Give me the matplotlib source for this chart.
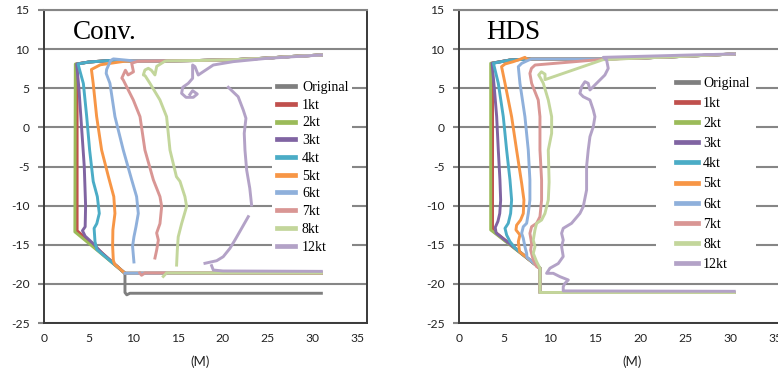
import numpy as np
import matplotlib
matplotlib.use("Agg")
import matplotlib.pyplot as plt
from matplotlib.patches import Rectangle

plt.rcParams['axes.unicode_minus'] = False

nan = np.nan
labels = ["Original", "1kt", "2kt", "3kt", "4kt", "5kt", "6kt", "7kt", "8kt", "12kt"]
colors = ["#7f7f7f", "#c0504d", "#9bbb59", "#8064a2", "#4bacc6",
          "#f79646", "#8fb0db", "#d99694", "#c3d69b", "#b3a2c7"]

# ---- Conv. panel ----
conv_top_x = [31.0, 27.5, 24.9, 21.2, 17.4, 13.7, 10.0, 7.4, 5.0, 3.65]
conv_top_y = [9.25, 9.05, 8.85, 8.65, 8.55, 8.5, 8.5, 8.55, 8.35, 8.1]

conv_orig_x = [3.6, 3.6, 9.05, 9.05, 9.25, 9.6, 31.0]
conv_orig_y = [8.1, -13.3, -18.65, -21.1, -21.4, -21.2, -21.2]
conv_1kt_x = [3.7, 3.7, 9.05, 31.0]
conv_1kt_y = [8.1, -13.2, -18.65, -18.65]
conv_2kt_x = [3.5, 3.45, 9.05, 31.0]
conv_2kt_y = [8.1, -13.35, -18.65, -18.65]
conv_3kt_x = [3.65, 3.9, 4.2, 4.5, 4.65, 4.6, 4.3, 4.6, 5.5, 6.5, 9.05, 31.0]
conv_3kt_y = [8.1, 5.0, 0.0, -5.0, -10.0, -12.7, -13.2, -13.9, -14.85, -16.1, -18.65, -18.65]
conv_4kt_x = [3.8, 4.4, 4.77, 5.1, 5.5, 5.96, 6.18, 5.9, 5.6, 5.7, 5.9, 9.05, 31.0]
conv_4kt_y = [8.1, 5.6, 1.4, -2.9, -6.9, -8.85, -11.0, -12.3, -12.9, -14.6, -15.6, -18.65, -18.65]
conv_5kt_x = [9.0, 6.3, 5.3, 5.5, 5.88, 6.44, 7.2, 7.8, 7.93, 7.7, 7.67, 7.75, 7.9, 9.05, 31.0]
conv_5kt_y = [8.45, 8.0, 7.4, 5.6, 1.4, -2.9, -6.3, -8.85, -11.0, -13.1, -15.2, -17.0, -17.5, -18.65, -18.65]
conv_6kt_x = [7.75, 7.45, 7.0, 6.95, 7.37, 7.93, 8.86, 9.8, 10.35, 10.54, 10.28, 10.05, 9.9, 10.05,
              nan, 9.05, 31.0]
conv_6kt_y = [8.75, 8.55, 7.4, 6.9, 5.63, 1.37, -2.9, -6.7, -8.85, -11.0, -12.7, -14.0, -15.2, -17.2,
              nan, -18.65, -18.6]
conv_7kt_x = [10.5, 9.8, 10.0, 9.4, 9.1, 8.7, 8.86, 9.98, 10.73, 11.28, 12.22, 12.96, 13.15, 12.96,
              12.59, 12.78, 12.59, 12.4, nan, 10.7, 10.9, 11.3, 31.0]
conv_7kt_y = [8.45, 8.2, 7.1, 6.7, 7.3, 6.3, 6.05, 3.5, 1.37, -2.9, -6.7, -8.85, -10.1, -12.3,
              -13.5, -14.4, -15.7, -16.7, nan, -18.6, -18.9, -18.6, -18.6]
conv_8kt_x = [13.5, 12.6, 12.4, 12.0, 11.66, 11.28, 11.1, 11.3, 11.84, 12.96, 13.7, 14.08, 14.8, 15.2,
              15.75, 15.94, 15.38, 15.0, 14.9, 14.82, nan, 13.33, 13.7, 31.0]
conv_8kt_y = [8.45, 7.8, 6.7, 7.3, 7.55, 7.33, 6.7, 6.6, 5.63, 3.5, 1.37, -2.9, -6.3, -6.9,
              -8.85, -10.1, -12.3, -14.0, -15.67, -17.6, nan, -19.05, -18.6, -18.6]
conv_12kt_x = [31.0, 24.9, 21.15, 18.92, 17.8, 17.24, 16.87, 16.61, 16.61, 16.13, 15.5, 15.38, 15.87,
               16.69, 17.13, 16.61, 16.3, nan, 20.6, 21.7, 22.27, 22.57, 22.38, 22.46, 22.65, 23.0,
               23.2, nan, 22.83, 22.09, 21.34, 20.78, 20.03, 19.3, 17.99, nan, 18.73, 18.92, 20.0, 31.0]
conv_12kt_y = [9.25, 8.82, 8.4, 7.97, 7.12, 6.69, 7.76, 7.97, 6.27, 5.63, 5.12, 4.35, 3.84,
               3.84, 4.26, 4.69, 4.2, nan, 5.12, 3.92, 2.22, 1.16, -0.76, -2.89, -5.45, -7.79,
               -9.92, nan, -11.41, -12.9, -14.4, -15.46, -16.53, -17.04, -17.37, nan, -17.67, -18.23,
               -18.35, -18.4]

# ---- HDS panel ----
hds_top_x = [30.4, 24.2, 19.8, 15.9, 12.0, 8.0, 5.6, 3.6]
hds_top_y = [9.38, 9.05, 8.85, 8.75, 8.75, 8.75, 8.6, 8.2]

hds_orig_x = [3.6, 3.6, 8.94, 8.94, 30.4]
hds_orig_y = [8.2, -13.1, -18.0, -21.1, -21.1]
hds_1kt_x = [3.7, 3.7, 8.94, 8.94, 30.4]
hds_1kt_y = [8.2, -13.1, -18.0, -21.1, -21.1]
hds_2kt_x = [3.5, 3.5, 8.94, 8.94, 30.4]
hds_2kt_y = [8.2, -13.1, -18.0, -21.1, -21.1]
hds_3kt_x = [3.65, 3.9, 4.16, 4.34, 4.52, 4.6, 4.5, 4.3, 4.0, 4.1, 8.94, 8.94, 30.4]
hds_3kt_y = [8.2, 5.0, 1.37, -2.9, -6.7, -9.3, -11.0, -12.0, -12.8, -13.5, -18.0, -21.1, -21.1]
hds_4kt_x = [3.8, 4.34, 4.89, 5.26, 5.63, 5.81, 5.7, 5.44, 5.08, 5.26, 5.63, 6.18, 8.94, 8.94, 30.4]
hds_4kt_y = [8.2, 5.63, 1.37, -2.9, -6.73, -9.28, -11.0, -12.26, -12.9, -13.75, -14.6, -15.4,
             -18.0, -21.1, -21.1]
hds_5kt_x = [7.5, 7.28, 6.73, 6.0, 5.08, 4.7, 5.08, 5.81, 6.36, 6.92, 7.17, 7.1, 6.8, 6.36, 6.29,
             6.73, 6.55, 6.66, 6.7, 8.94, 8.94, 30.4]
hds_5kt_y = [8.7, 8.95, 8.7, 8.4, 8.1, 7.76, 5.63, 1.37, -2.9, -7.15, -9.28, -11.0, -11.84, -12.5,
             -13.1, -13.75, -14.6, -15.67, -15.9, -18.0, -21.1, -21.1]
hds_6kt_x = [7.5, 6.92, 6.55, 6.73, 7.28, 7.65, 7.83, 7.83, 7.65, 7.47, 7.1, 6.92, 7.1, 7.28, 7.47,
             7.5, 8.94, 8.94, 30.4]
hds_6kt_y = [8.5, 8.18, 7.76, 5.63, 1.37, -2.9, -6.73, -9.28, -11.0, -12.26, -12.69, -13.54,
             -14.18, -15.24, -16.1, -16.6, -18.0, -21.1, -21.1]
hds_7kt_x = [15.9, 8.4, 8.0, 7.83, 8.02, 8.75, 8.94, 8.94, 9.12, 9.12, 8.94, 8.57, 8.02, 7.83,
             8.02, 7.91, 8.2, 8.57, 8.94, 8.94, 30.4]
hds_7kt_y = [8.7, 7.97, 7.54, 6.9, 5.63, 3.5, 1.37, -2.9, -6.73, -9.28, -11.41, -12.26, -12.69,
             -13.54, -14.82, -15.67, -16.95, -17.8, -18.0, -21.1, -21.1]
hds_8kt_x = [15.9, 9.5, 9.5, 9.1, 8.8, 9.0, 9.31, 9.86, 10.23, 10.23, 9.86, 9.95, 9.86, 9.49, 9.12,
             8.57, 8.39, 8.2, 8.39, 8.2, 8.57, 8.94, 8.94, 30.4]
hds_8kt_y = [8.65, 6.1, 6.8, 7.1, 6.7, 6.3, 5.63, 3.5, 1.37, -0.76, -2.9, -7.0, -9.28, -11.0,
             -11.84, -12.26, -13.1, -14.4, -15.24, -16.1, -17.16, -18.0, -21.1, -21.1]
hds_12kt_x = [30.4, 25.5, 15.93, 16.3, 16.48, 16.11, 15.19, 14.46, 14.27, 13.91, 13.54, 13.35,
              13.72, 14.46, 14.83, 15.01, 14.83, 14.46, 14.27, 14.09, 14.09, 13.72, 13.35, 12.43,
              11.51, 11.33, 11.51, 11.33, 11.51, 10.96, 10.04, 9.67, 10.41, 11.15, 12.07, 11.7,
              11.51, 11.51, 30.4]
hds_12kt_y = [9.38, 9.25, 8.95, 8.61, 7.54, 6.69, 5.63, 4.78, 5.63, 5.84, 5.2, 4.35,
              3.92, 3.5, 2.22, 1.37, 0.09, -1.19, -2.89, -5.0, -8.0, -10.13, -11.0, -12.26,
              -12.9, -13.54, -14.4, -15.24, -16.5, -17.4, -18.0, -18.65, -18.65, -19.08, -19.5,
              -19.93, -20.36, -20.9, -20.95]


def with_top(top_x, top_y, net_x, net_y):
    # float rope from the right end up to where this run's net starts
    start = net_x[0]
    tx = [x for x in top_x if x > start]
    ty = [y for x, y in zip(top_x, top_y) if x > start]
    return tx + net_x, ty + net_y


conv_series = [
    with_top(conv_top_x, conv_top_y, conv_orig_x, conv_orig_y),
    with_top(conv_top_x, conv_top_y, conv_1kt_x, conv_1kt_y),
    with_top(conv_top_x, conv_top_y, conv_2kt_x, conv_2kt_y),
    with_top(conv_top_x, conv_top_y, conv_3kt_x, conv_3kt_y),
    with_top(conv_top_x, conv_top_y, conv_4kt_x, conv_4kt_y),
    with_top(conv_top_x, conv_top_y, conv_5kt_x, conv_5kt_y),
    with_top(conv_top_x, conv_top_y, conv_6kt_x, conv_6kt_y),
    with_top(conv_top_x, conv_top_y, conv_7kt_x, conv_7kt_y),
    with_top(conv_top_x, conv_top_y, conv_8kt_x, conv_8kt_y),
    (conv_12kt_x, conv_12kt_y),
]
hds_series = [
    with_top(hds_top_x, hds_top_y, hds_orig_x, hds_orig_y),
    with_top(hds_top_x, hds_top_y, hds_1kt_x, hds_1kt_y),
    with_top(hds_top_x, hds_top_y, hds_2kt_x, hds_2kt_y),
    with_top(hds_top_x, hds_top_y, hds_3kt_x, hds_3kt_y),
    with_top(hds_top_x, hds_top_y, hds_4kt_x, hds_4kt_y),
    with_top(hds_top_x, hds_top_y, hds_5kt_x, hds_5kt_y),
    with_top(hds_top_x, hds_top_y, hds_6kt_x, hds_6kt_y),
    with_top(hds_top_x, hds_top_y, hds_7kt_x, hds_7kt_y),
    with_top(hds_top_x, hds_top_y, hds_8kt_x, hds_8kt_y),
    (hds_12kt_x, hds_12kt_y),
]

W, H = 778, 372
fig = plt.figure(figsize=(W / 100, H / 100), dpi=100)
ax1 = fig.add_axes([44 / W, (H - 323) / H, 323 / W, 313 / H])
ax2 = fig.add_axes([459 / W, (H - 323) / H, 326 / W, 313 / H])

grid_c = "#868686"
tick_font = "Lato"
serif = "Liberation Serif"


def style(ax, xmax, title, title_x, legbox, leg_anchor, hlen, hpad, lspace, xlab_x):
    ax.set_xlim(0, xmax)
    ax.set_ylim(-25, 15)
    ax.set_xticks(range(0, 36, 5))
    ax.set_yticks(range(-25, 16, 5))
    ax.set_axisbelow(True)
    ax.yaxis.grid(True, color=grid_c, lw=1.5)
    ax.xaxis.grid(False)
    for s in ["left", "bottom", "right"]:
        ax.spines[s].set_color("#3a3a3a")
        ax.spines[s].set_linewidth(1.4)
    ax.spines["top"].set_color(grid_c)
    ax.spines["top"].set_linewidth(1.5)
    ax.tick_params(axis="y", length=4, width=1.5, color=grid_c, pad=6.5)
    ax.tick_params(axis="x", length=0, pad=7)
    for lab in ax.get_xticklabels() + ax.get_yticklabels():
        lab.set_fontfamily(tick_font)
        lab.set_fontsize(8.7)
        lab.set_color("#222222")
    ax.set_xlabel("(M)", fontfamily=tick_font, fontsize=9.5, color="#222222")
    ax.xaxis.set_label_coords(xlab_x, -0.105)
    ax.text(title_x, 0.907, title, transform=ax.transAxes, fontfamily=serif,
            fontsize=19.5, va="baseline", ha="left")
    ax.add_patch(Rectangle(legbox[:2], legbox[2], legbox[3], transform=ax.transAxes,
                           facecolor="white", edgecolor="none", zorder=1, clip_on=False))
    leg = ax.legend(loc="upper left", bbox_to_anchor=leg_anchor, frameon=False,
                    prop={"family": serif, "size": 10}, borderpad=0, borderaxespad=0,
                    handlelength=hlen, handletextpad=hpad, labelspacing=lspace)
    for ln in leg.get_lines():
        ln.set_linewidth(3.4)


for ax, series in [(ax1, conv_series), (ax2, hds_series)]:
    for (xs, ys), lab, c in zip(series, labels, colors):
        ax.plot(xs, ys, color=c, lw=2.1, label=lab, zorder=2, solid_joinstyle="round")

# legend white boxes in axes fraction, from pixel extents
style(ax1, 36.1, "Conv.", (73 - 44) / 323,
      ((272 - 44) / 323, (323 - 260) / 313, 80 / 323, 184 / 313),
      ((277 - 44) / 323, (323 - 81) / 313), 1.3, 0.5, 0.34, (200 - 44) / 323)
style(ax2, 36.0, "HDS", (486 - 459) / 326,
      ((656 - 459) / 326, (323 - 277) / 313, 100 / 326, 205 / 313),
      ((676 - 459) / 326, (323 - 77) / 313), 1.6, 0.36, 0.51, (632 - 459) / 326)

fig.savefig("out.png", dpi=100)
